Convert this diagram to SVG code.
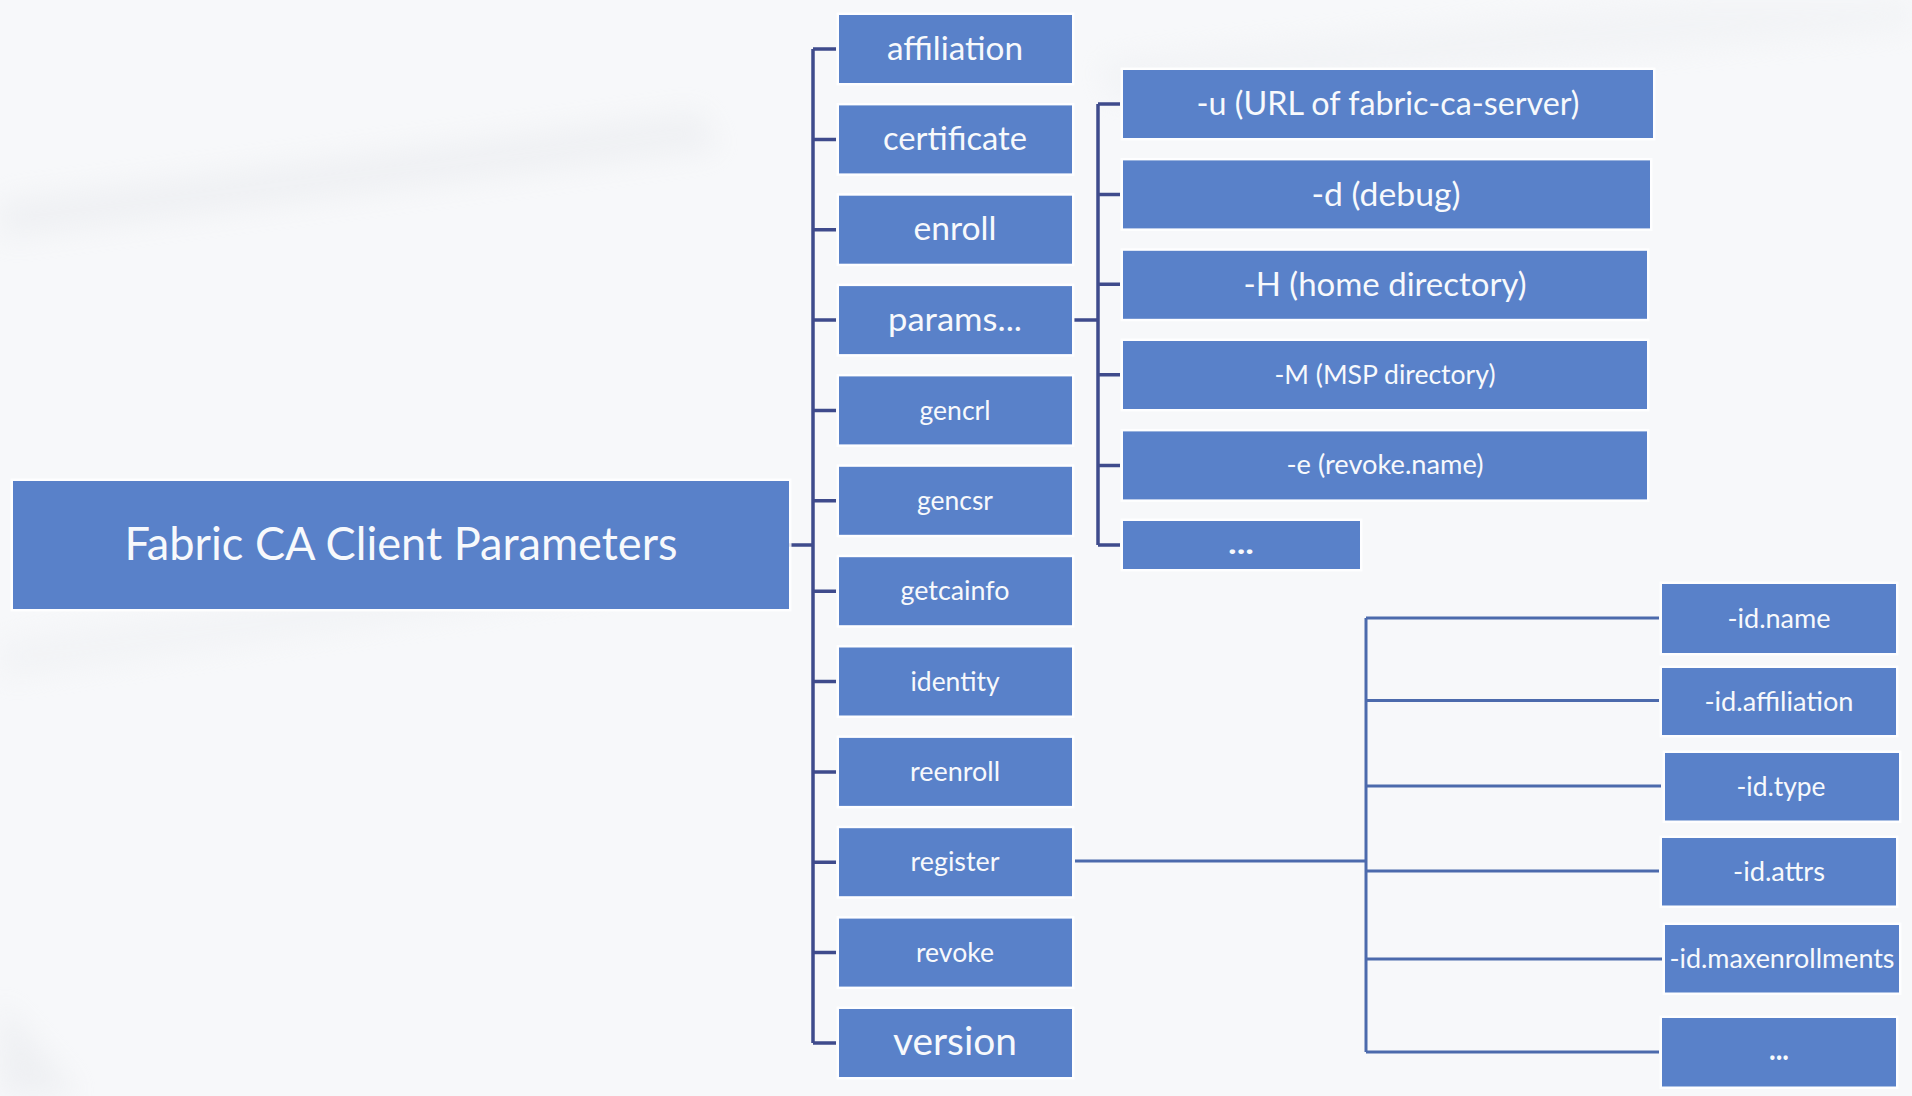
<svg xmlns="http://www.w3.org/2000/svg" width="1912" height="1096" viewBox="0 0 1912 1096">
<defs>
<style>
.box{fill:#5981C9;stroke:#FFFFFF;stroke-opacity:0.85;stroke-width:5;paint-order:stroke}
.t{font-family:Lato,"Noto Sans","Liberation Sans",sans-serif;fill:#F7F9FC;text-anchor:middle}
.L{font-size:33.5px}
.M{font-size:27.5px}
.V{font-size:39px}
.R{font-size:46px}
.D{font-size:30px;font-weight:bold}
.c1{stroke:#3F4B8C;stroke-width:3.5;fill:none}
.c2{stroke:#4C6AAC;stroke-width:3;fill:none}
</style>
<filter id="blur" x="-20%" y="-50%" width="140%" height="200%"><feGaussianBlur stdDeviation="14"/></filter>
</defs>
<rect width="1912" height="1096" fill="#F7F8FA"/>
<g filter="url(#blur)" opacity="0.45">
<path d="M0 200 L700 110 L720 150 L0 240 Z" fill="#E6E8EC"/>
<path d="M0 640 L600 560 L620 590 L0 680 Z" fill="#ECEEF1"/>
<path d="M1100 60 L1700 0 L1912 0 L1912 30 L1110 100 Z" fill="#ECEEF1"/>
<path d="M0 1000 L80 1096 L0 1096 Z" fill="#E4E6EA"/>
</g>

<g id="connectors">
<path class="c1" d="M789 545 H813 M813 49 V1043"/>
<path class="c1" d="M813 49 H836 M813 139.4 H836 M813 229.7 H836 M813 320.1 H836 M813 410.4 H836 M813 500.8 H836 M813 591.2 H836 M813 681.5 H836 M813 771.9 H836 M813 862.2 H836 M813 952.6 H836 M813 1043 H836"/>
<path class="c1" d="M1074 320 H1098 M1098 104 V545 M1098 104 H1120 M1098 194.4 H1120 M1098 284.3 H1120 M1098 374.7 H1120 M1098 465.4 H1120 M1098 545 H1120"/>
<path class="c2" d="M1075 861 H1366 M1366 618 V1052 M1366 618 H1659 M1366 700.5 H1659 M1366 786 H1661 M1366 871 H1659 M1366 959 H1662 M1366 1052 H1659"/>
</g>

<g id="root"><rect class="box" x="13" y="481" width="776" height="128"/><text class="t R" x="401" y="560" textLength="553" lengthAdjust="spacingAndGlyphs">Fabric CA Client Parameters</text></g>

<g id="affiliation"><rect class="box" x="839" y="15" width="233" height="68"/><text class="t L" x="955" y="59.5" textLength="136" lengthAdjust="spacingAndGlyphs">affiliation</text></g>
<g id="certificate"><rect class="box" x="839" y="105.4" width="233" height="68"/><text class="t L" x="955" y="149.5" textLength="144" lengthAdjust="spacingAndGlyphs">certificate</text></g>
<g id="enroll"><rect class="box" x="839" y="195.7" width="233" height="68"/><text class="t L" x="955" y="240" textLength="83" lengthAdjust="spacingAndGlyphs">enroll</text></g>
<g id="params"><rect class="box" x="839" y="286.1" width="233" height="68"/><text class="t L" x="955" y="330.5" textLength="134" lengthAdjust="spacingAndGlyphs">params...</text></g>
<g id="gencrl"><rect class="box" x="839" y="376.4" width="233" height="68"/><text class="t M" x="955" y="419.5" textLength="71" lengthAdjust="spacingAndGlyphs">gencrl</text></g>
<g id="gencsr"><rect class="box" x="839" y="466.8" width="233" height="68"/><text class="t M" x="955" y="509.8" textLength="76" lengthAdjust="spacingAndGlyphs">gencsr</text></g>
<g id="getcainfo"><rect class="box" x="839" y="557.2" width="233" height="68"/><text class="t M" x="955" y="600.2" textLength="109" lengthAdjust="spacingAndGlyphs">getcainfo</text></g>
<g id="identity"><rect class="box" x="839" y="647.5" width="233" height="68"/><text class="t M" x="955" y="690.5" textLength="89" lengthAdjust="spacingAndGlyphs">identity</text></g>
<g id="reenroll"><rect class="box" x="839" y="737.9" width="233" height="68"/><text class="t M" x="955" y="780.9" textLength="90" lengthAdjust="spacingAndGlyphs">reenroll</text></g>
<g id="register"><rect class="box" x="839" y="828.2" width="233" height="68"/><text class="t M" x="955" y="871.2" textLength="89" lengthAdjust="spacingAndGlyphs">register</text></g>
<g id="revoke"><rect class="box" x="839" y="918.6" width="233" height="68"/><text class="t M" x="955" y="961.6" textLength="78" lengthAdjust="spacingAndGlyphs">revoke</text></g>
<g id="version"><rect class="box" x="839" y="1009" width="233" height="68"/><text class="t V" x="955" y="1055" textLength="124" lengthAdjust="spacingAndGlyphs">version</text></g>

<g id="opt-u"><rect class="box" x="1123" y="70" width="530" height="68"/><text class="t L" x="1388" y="115" textLength="383" lengthAdjust="spacingAndGlyphs">-u (URL of fabric-ca-server)</text></g>
<g id="opt-d"><rect class="box" x="1123" y="160.4" width="527" height="68"/><text class="t L" x="1386" y="205.5" textLength="149" lengthAdjust="spacingAndGlyphs">-d (debug)</text></g>
<g id="opt-H"><rect class="box" x="1123" y="250.8" width="524" height="68"/><text class="t L" x="1385" y="295.5" textLength="283" lengthAdjust="spacingAndGlyphs">-H (home directory)</text></g>
<g id="opt-M"><rect class="box" x="1123" y="341" width="524" height="68"/><text class="t M" x="1385" y="383.5" textLength="221" lengthAdjust="spacingAndGlyphs">-M (MSP directory)</text></g>
<g id="opt-e"><rect class="box" x="1123" y="431.4" width="524" height="68"/><text class="t M" x="1385" y="474" textLength="197" lengthAdjust="spacingAndGlyphs">-e (revoke.name)</text></g>
<g id="opt-more"><rect class="box" x="1123" y="521" width="237" height="48"/><text class="t D" x="1241" y="554" textLength="26" lengthAdjust="spacingAndGlyphs">...</text></g>

<g id="id-name"><rect class="box" x="1662" y="584" width="234" height="69"/><text class="t M" x="1779" y="627.5" textLength="103" lengthAdjust="spacingAndGlyphs">-id.name</text></g>
<g id="id-affiliation"><rect class="box" x="1662" y="668" width="234" height="67"/><text class="t M" x="1779" y="710.5" textLength="149" lengthAdjust="spacingAndGlyphs">-id.affiliation</text></g>
<g id="id-type"><rect class="box" x="1665" y="753" width="234" height="67.5"/><text class="t M" x="1781" y="795.5" textLength="89" lengthAdjust="spacingAndGlyphs">-id.type</text></g>
<g id="id-attrs"><rect class="box" x="1662" y="838" width="234" height="67.5"/><text class="t M" x="1779" y="880.5" textLength="92" lengthAdjust="spacingAndGlyphs">-id.attrs</text></g>
<g id="id-maxenrollments"><rect class="box" x="1665" y="925" width="234" height="67.5"/><text class="t M" x="1782" y="967.5" textLength="225" lengthAdjust="spacingAndGlyphs">-id.maxenrollments</text></g>
<g id="id-more"><rect class="box" x="1662" y="1018" width="234" height="68.5"/><text class="t D" x="1779" y="1060" textLength="20" lengthAdjust="spacingAndGlyphs">...</text></g>
</svg>
